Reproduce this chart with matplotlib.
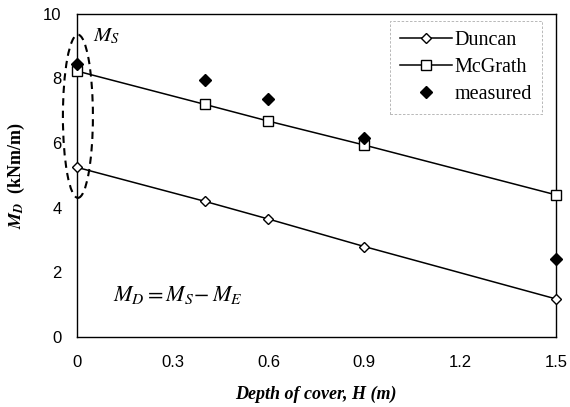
import matplotlib
matplotlib.use("Agg")
import matplotlib.pyplot as plt
from matplotlib.patches import Ellipse

depth = [0, 0.4, 0.6, 0.9, 1.5]
duncan = [5.25, 4.2, 3.65, 2.8, 1.18]
mcgrath = [8.23, 7.2, 6.68, 5.94, 4.4]
measured = [8.45, 7.95, 7.35, 6.15, 2.42]
xticks = [0, 0.3, 0.6, 0.9, 1.2, 1.5]
yticks = [0, 2, 4, 6, 8, 10]

plt.rcParams['mathtext.fontset'] = 'stix'
serif = 'Liberation Serif'
sans = 'Liberation Sans'

fig = plt.figure(figsize=(5.7, 4.07), dpi=100)
ax = fig.add_axes([0.135, 0.172, 0.84, 0.794])

ax.plot(depth, duncan, '-', color='black', lw=1.1, marker='D', ms=5,
        mfc='white', mec='black', mew=1.0, label='Duncan', clip_on=False, zorder=3)
ax.plot(depth, mcgrath, '-', color='black', lw=1.1, marker='s', ms=7,
        mfc='white', mec='black', mew=1.0, label='McGrath', clip_on=False, zorder=3)
ax.plot(depth, measured, linestyle='none', marker='D', ms=6,
        mfc='black', mec='black', label='measured', clip_on=False, zorder=4)

ax.set_xlim(0, 1.5)
ax.set_ylim(0, 10)
ax.set_xticks(xticks)
ax.set_xticklabels([f"{t:g}" for t in xticks])
ax.set_yticks(yticks)
ax.tick_params(length=0, labelsize=12)
ax.tick_params(axis='y', pad=11)
ax.tick_params(axis='x', pad=13)
for lab in ax.get_xticklabels() + ax.get_yticklabels():
    lab.set_fontfamily(sans)
for s in ax.spines.values():
    s.set_linewidth(1.0)

ell = Ellipse((0.003, 6.83), 0.094, 5.05, fill=False, ls=(0, (3.5, 2.5)),
              lw=1.5, color='black', clip_on=False, zorder=5)
ax.add_patch(ell)
ax.text(0.05, 9.3, r'$M_S$', fontsize=15, ha='left', va='center')
ax.text(0.315, 1.3, r'$M_D = M_S\!-M_E$', fontsize=16, ha='center', va='center')

ax.set_xlabel('Depth of cover, H (m)', fontfamily=serif, fontweight='bold',
              fontstyle='italic', fontsize=13, labelpad=11)
ax.set_ylabel(r'$\mathbfit{M_D}$  (kNm/m)', fontfamily=serif, fontweight='bold',
              fontsize=13, labelpad=12)

leg = ax.legend(loc='upper right', prop={'family': serif, 'size': 14.5},
                frameon=True, fancybox=False, edgecolor='#999999',
                handlelength=2.6, handletextpad=0.1, borderpad=0.5,
                labelspacing=0.4, borderaxespad=0,
                bbox_to_anchor=(0.971, 0.978))
leg.get_frame().set_linewidth(0.6)
leg.get_frame().set_linestyle((0, (3, 2)))

fig.savefig('out.png', dpi=100)
